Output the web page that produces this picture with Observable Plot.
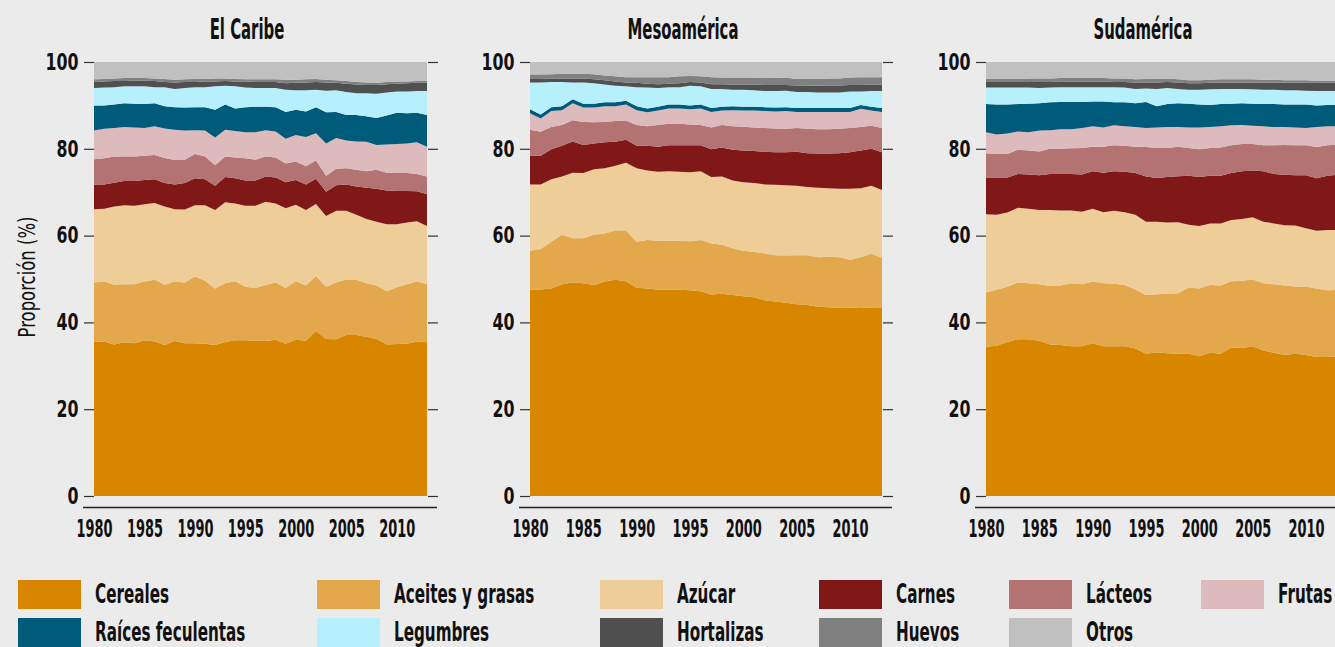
<!DOCTYPE html>
<html>
<head>
<meta charset="utf-8">
<script src="https://cdn.jsdelivr.net/npm/d3@7"></script>
<script src="https://cdn.jsdelivr.net/npm/@observablehq/plot@0.6"></script>
<style>
  html, body { margin: 0; padding: 0; background: #ebebeb; width: 1335px; height: 647px; overflow: hidden; }
  #wrap { position: relative; width: 1335px; height: 647px; overflow: hidden;
          font-family: "DejaVu Sans", sans-serif; color: #111; }
  .panel { position: absolute; top: 0; }
  .title { position: absolute; top: 13px; font-size: 28px; font-weight: bold; line-height: 34px; white-space: nowrap; }
  .ylab { position: absolute; left: 27px; top: 277px; font-size: 23px; line-height: 26px; white-space: nowrap; }
  .leg { position: absolute; height: 29px; white-space: nowrap; }
  .sw { position: absolute; left: 0; top: 0; width: 63px; height: 29px; }
  .lt { position: absolute; left: 77px; top: -2px; font-size: 27px; font-weight: bold; line-height: 32px;
        transform-origin: left center; }
</style>
</head>
<body>
<div id="wrap"></div>
<script>
const years = [1980,1981,1982,1983,1984,1985,1986,1987,1988,1989,1990,1991,1992,1993,1994,1995,1996,1997,1998,1999,2000,2001,2002,2003,2004,2005,2006,2007,2008,2009,2010,2011,2012,2013];
const categories = ["Cereales","Aceites y grasas","Azúcar","Carnes","Lácteos","Frutas","Raíces feculentas","Legumbres","Hortalizas","Huevos","Otros"];
const colors = ["#d88600","#e2a84b","#efcd98","#801818","#b37372","#ddbbbc","#005a7a","#b5f0fc","#505050","#808080","#c0c0c0"];
const yTicks = [0,20,40,60,80,100];
const xTicks = [1980,1985,1990,1995,2000,2005,2010];
const regions = ["El Caribe","Mesoamérica","Sudamérica"];
const yTitle = "Proporción (%)";

// Cumulative upper edge (%) of each band (bottom to top).
// El Caribe
const caribeCereales   = [35.5,35.6,34.9,35.4,35.2,35.9,35.6,34.8,35.7,35.2,35.2,35.1,34.8,35.5,35.9,35.9,35.8,35.7,36.0,35.1,36.0,35.8,38.0,36.2,36.1,37.1,37.1,36.7,36.2,34.9,35.0,35.1,35.6,35.4];
const caribeAceites    = [49.2,49.4,48.7,48.8,48.8,49.4,49.8,48.7,49.4,49.2,50.6,49.6,47.8,49.0,49.5,48.2,47.9,48.6,49.2,47.9,49.5,48.5,50.7,48.2,49.2,49.9,49.8,49.0,48.5,47.2,48.1,48.8,49.4,48.8];
const caribeAzucar     = [66.1,66.2,66.7,67.0,66.9,67.2,67.5,66.7,66.1,66.0,67.0,67.0,65.9,67.7,67.4,66.9,66.9,67.8,67.4,66.3,67.1,65.9,67.3,64.5,65.7,65.7,64.8,63.8,63.2,62.6,62.6,63.0,63.3,62.2];
const caribeCarnes     = [71.8,71.8,72.2,72.6,72.6,72.8,73.0,72.1,71.8,72.1,73.2,73.0,71.5,73.5,73.2,72.7,72.7,73.6,73.4,72.3,72.8,71.8,73.1,70.1,71.6,71.8,71.3,71.0,70.8,70.4,70.3,70.3,70.2,69.5];
const caribeLacteos    = [77.6,77.8,78.2,78.2,78.2,78.4,78.6,77.9,77.4,77.5,78.8,78.2,76.2,78.2,78.0,77.8,77.5,78.2,78.0,76.6,77.1,76.0,77.3,73.8,75.4,75.5,75.2,74.8,75.2,74.5,74.4,74.4,74.2,73.6];
const caribeFrutas     = [84.2,84.6,84.8,85.0,84.9,84.8,85.2,84.7,84.4,84.2,84.3,84.2,82.6,84.4,84.1,83.8,83.8,84.3,84.0,82.3,83.2,82.7,83.6,81.2,82.5,81.9,81.7,81.6,80.9,81.0,81.1,81.2,81.5,80.5];
const caribeRaices     = [90.0,90.0,90.2,90.5,90.4,90.3,90.5,89.8,89.6,89.5,89.6,89.6,89.0,90.2,89.3,89.6,89.7,89.7,89.6,88.5,89.0,88.6,89.6,88.4,88.5,87.8,87.8,87.5,87.1,87.7,88.3,88.2,88.3,87.8];
const caribeLegumbres  = [94.0,94.1,94.2,94.4,94.4,94.4,94.2,94.2,93.8,94.0,94.2,94.2,94.4,94.5,94.4,94.1,94.0,94.0,94.0,93.6,93.5,93.5,93.6,93.4,93.5,93.1,92.8,92.8,92.7,93.0,93.2,93.2,93.3,93.3];
const caribeHortalizas = [95.4,95.5,95.6,95.6,95.7,95.7,95.6,95.4,95.3,95.4,95.4,95.5,95.5,95.6,95.5,95.5,95.4,95.4,95.4,95.1,95.2,95.3,95.4,95.3,95.2,95.0,94.8,94.7,94.7,94.9,95.0,95.1,95.2,95.2];
const caribeHuevos     = [96.0,96.1,96.2,96.3,96.3,96.3,96.2,96.1,95.9,96.0,96.1,96.1,96.2,96.2,96.1,96.0,96.0,96.0,96.0,95.9,95.9,96.0,96.1,95.9,95.8,95.6,95.4,95.3,95.2,95.4,95.5,95.5,95.6,95.7];
const caribeOtros      = [100,100,100,100,100,100,100,100,100,100,100,100,100,100,100,100,100,100,100,100,100,100,100,100,100,100,100,100,100,100,100,100,100,100];

// Mesoamérica
const mesoCereales   = [47.5,47.6,47.8,48.8,49.2,49.0,48.6,49.4,49.8,49.5,48.0,47.8,47.5,47.5,47.5,47.4,47.2,46.4,46.6,46.3,46.0,45.8,45.1,44.8,44.5,44.2,44.0,43.6,43.5,43.3,43.4,43.5,43.3,43.3];
const mesoAceites    = [56.5,56.9,58.6,60.2,59.4,59.4,60.2,60.5,61.2,61.2,58.6,59.0,58.8,58.8,58.8,58.7,59.0,58.2,57.9,57.1,56.5,56.2,55.9,55.5,55.4,55.5,55.5,55.0,55.1,55.0,54.4,55.0,55.8,54.9];
const mesoAzucar     = [71.8,71.8,73.0,73.6,74.5,74.4,75.3,75.5,76.1,76.8,75.5,75.0,74.7,74.8,74.7,74.6,74.8,73.5,73.6,72.7,72.3,72.1,71.8,71.7,71.6,71.5,71.2,71.0,70.9,70.8,70.8,70.9,71.5,70.5];
const mesoCarnes     = [78.4,78.4,79.9,80.7,81.7,80.9,81.2,81.5,81.6,82.1,80.7,80.7,80.5,80.8,80.8,80.8,80.8,79.9,80.3,79.8,79.6,79.5,79.3,79.2,79.2,79.3,79.0,78.9,78.9,79.0,79.2,79.6,80.0,79.2];
const mesoLacteos    = [84.4,83.9,85.0,85.5,86.6,86.2,86.1,86.2,86.4,86.5,85.5,85.2,85.5,85.8,85.8,85.6,85.5,84.9,85.5,85.2,85.1,84.9,84.8,84.7,84.6,84.8,84.6,84.5,84.5,84.6,84.8,85.0,85.3,84.8];
const mesoFrutas     = [88.2,87.0,88.7,88.9,90.5,89.5,89.5,89.8,89.8,90.2,88.9,88.4,88.8,89.3,89.3,89.1,89.3,88.5,88.8,88.9,88.8,88.8,88.7,88.6,88.7,88.5,88.5,88.5,88.5,88.5,88.5,89.2,88.8,88.5];
const mesoRaices     = [89.1,87.9,89.6,89.8,91.4,90.4,90.4,90.7,90.7,91.1,89.8,89.3,89.7,90.2,90.2,90.0,90.2,89.4,89.7,89.8,89.7,89.7,89.6,89.5,89.6,89.4,89.4,89.4,89.4,89.4,89.4,90.1,89.7,89.4];
const mesoLegumbres  = [95.3,95.3,95.4,95.4,95.3,95.3,95.1,94.8,94.5,94.4,94.2,94.1,94.0,94.2,94.2,94.5,94.4,93.8,93.8,93.6,93.6,93.5,93.3,93.3,93.4,93.1,93.1,93.0,93.0,93.0,93.2,93.2,93.3,93.3];
const mesoHortalizas = [96.1,96.1,96.2,96.2,96.2,96.2,96.0,95.8,95.5,95.3,95.2,95.0,94.9,95.0,95.1,95.4,95.3,94.9,94.9,94.8,94.8,94.8,94.7,94.7,94.7,94.6,94.6,94.5,94.6,94.6,94.7,94.7,94.8,94.8];
const mesoHuevos     = [97.1,97.1,97.2,97.3,97.3,97.3,97.2,96.9,96.7,96.5,96.5,96.5,96.5,96.5,96.7,96.8,96.7,96.5,96.4,96.4,96.4,96.4,96.3,96.3,96.4,96.1,96.1,96.1,96.2,96.2,96.4,96.5,96.5,96.5];
const mesoOtros      = [100,100,100,100,100,100,100,100,100,100,100,100,100,100,100,100,100,100,100,100,100,100,100,100,100,100,100,100,100,100,100,100,100,100];

// Sudamérica
const sudCereales   = [34.4,34.6,35.5,36.1,36.1,35.8,34.9,34.8,34.5,34.5,35.2,34.5,34.5,34.5,34.0,32.8,33.1,32.9,32.8,32.8,32.2,33.0,32.8,34.2,34.1,34.5,33.5,33.0,32.5,32.8,32.5,32.0,32.0,32.1];
const sudAceites    = [46.9,47.5,48.2,49.2,49.0,48.8,48.4,48.5,49.0,48.8,49.4,49.0,48.9,48.6,47.6,46.3,46.5,46.6,46.7,48.0,47.8,48.6,48.5,49.5,49.6,49.9,49.0,48.8,48.5,48.3,48.2,47.8,47.4,47.5];
const sudAzucar     = [64.9,64.8,65.3,66.4,66.2,65.9,65.9,65.8,65.8,65.5,66.2,65.4,65.7,65.4,64.8,63.2,63.2,63.0,63.1,62.5,62.2,62.8,62.8,63.6,63.8,64.2,63.2,62.8,62.4,62.3,61.7,61.1,61.3,61.3];
const sudCarnes     = [73.4,73.4,73.4,74.2,74.1,73.9,74.2,74.2,74.2,74.1,74.8,74.5,74.8,74.7,74.4,73.6,73.3,73.5,73.7,73.8,73.5,73.8,73.8,74.4,74.8,75.0,74.8,74.2,74.0,73.9,73.9,73.2,73.8,74.0];
const sudLacteos    = [79.0,78.8,78.8,79.8,79.6,79.4,80.0,80.0,80.1,80.2,80.5,80.5,80.8,80.7,80.5,80.4,80.2,80.2,80.5,80.2,79.9,80.2,80.3,80.8,81.1,81.1,80.8,80.8,80.9,80.8,80.8,80.4,80.8,81.0];
const sudFrutas     = [83.8,83.3,83.5,84.0,83.8,84.2,84.3,84.5,84.5,84.8,85.2,84.9,85.4,85.2,85.0,84.8,84.9,85.0,85.0,84.9,84.9,85.0,85.2,85.4,85.5,85.3,85.2,85.0,85.0,84.9,84.8,85.0,85.2,85.2];
const sudRaices     = [90.3,90.2,90.2,90.3,90.4,90.5,90.7,90.8,90.8,90.8,90.9,90.9,90.7,90.7,90.5,90.8,89.8,90.3,90.5,90.4,90.2,90.1,90.3,90.4,90.5,90.4,90.3,90.3,90.2,90.2,90.2,90.0,90.1,90.1];
const sudLegumbres  = [94.1,94.1,94.1,94.1,94.1,94.0,94.1,94.2,94.2,94.2,94.2,94.2,94.2,94.1,93.8,93.9,93.8,94.0,93.8,93.6,93.6,93.7,93.8,93.8,93.8,93.7,93.6,93.6,93.5,93.5,93.4,93.3,93.3,93.3];
const sudHortalizas = [95.4,95.4,95.4,95.4,95.4,95.4,95.4,95.5,95.5,95.5,95.5,95.5,95.4,95.4,95.3,95.3,95.3,95.4,95.3,95.1,95.1,95.2,95.2,95.2,95.2,95.2,95.2,95.2,95.2,95.2,95.2,95.2,95.2,95.2];
const sudHuevos     = [96.1,96.1,96.1,96.1,96.2,96.2,96.2,96.3,96.3,96.3,96.3,96.3,96.2,96.2,96.0,96.1,96.1,96.2,96.0,95.8,95.8,95.9,96.0,96.0,96.0,96.0,95.9,95.9,95.8,95.8,95.8,95.7,95.7,95.7];
const sudOtros      = [100,100,100,100,100,100,100,100,100,100,100,100,100,100,100,100,100,100,100,100,100,100,100,100,100,100,100,100,100,100,100,100,100,100];

const caribeTops = [caribeCereales,caribeAceites,caribeAzucar,caribeCarnes,caribeLacteos,caribeFrutas,caribeRaices,caribeLegumbres,caribeHortalizas,caribeHuevos,caribeOtros];
const mesoTops   = [mesoCereales,mesoAceites,mesoAzucar,mesoCarnes,mesoLacteos,mesoFrutas,mesoRaices,mesoLegumbres,mesoHortalizas,mesoHuevos,mesoOtros];
const sudTops    = [sudCereales,sudAceites,sudAzucar,sudCarnes,sudLacteos,sudFrutas,sudRaices,sudLegumbres,sudHortalizas,sudHuevos,sudOtros];

// turn cumulative edges into per-category shares for Plot's stack
function toRows(tops) {
  const rows = [];
  years.forEach((yr, i) => {
    let prev = 0;
    categories.forEach((c, k) => {
      const top = tops[k][i];
      rows.push({year: yr, category: c, share: top - prev});
      prev = top;
    });
  });
  return rows;
}

// condensed look: horizontal compression of a sans font
const ctx = document.createElement("canvas").getContext("2d");
function textW(s, font) { ctx.font = font; return ctx.measureText(s).width; }
const FAM = "'DejaVu Sans', sans-serif";
const kTitle = 111 / textW("Mesoamérica", `bold 28px ${FAM}`);
const kLeg   = 74 / textW("Cereales", `bold 27px ${FAM}`);
const kXt    = 36 / textW("1980", `bold 25px ${FAM}`);
const kYt    = 33 / textW("100", `bold 23px ${FAM}`);
const kYlab  = 121 / textW(yTitle, `23px ${FAM}`);

// wrap each tick label in a group that scales it horizontally about its own anchor point
function condenseSvg(svg, label, k) {
  svg.querySelectorAll(`g[aria-label="${label}"] text`).forEach(t => {
    const parent = t.parentNode;
    const m = parent.getCTM().inverse().multiply(t.getCTM());
    const x = parseFloat(t.getAttribute("x")) || 0, y = parseFloat(t.getAttribute("y")) || 0;
    const ax = m.a * x + m.c * y + m.e, ay = m.b * x + m.d * y + m.f;
    const g = document.createElementNS("http://www.w3.org/2000/svg", "g");
    g.setAttribute("transform", `translate(${ax},${ay}) scale(${k},1) translate(${-ax},${-ay})`);
    parent.insertBefore(g, t);
    g.appendChild(t);
  });
}

const layout = [
  {left: 0,   width: 440, ml: 94, mr: 13, tops: caribeTops, titleX: 247},
  {left: 440, width: 460, ml: 90, mr: 18, tops: mesoTops,   titleX: 683},
  {left: 900, width: 460, ml: 86, mr: 22, tops: sudTops,    titleX: 1143}
];

const wrap = document.getElementById("wrap");

layout.forEach((L, p) => {
  const svg = Plot.plot({
    width: L.width, height: 540,
    marginLeft: L.ml, marginRight: L.mr, marginTop: 62, marginBottom: 44,
    style: {background: "transparent", fontFamily: FAM, color: "#111", overflow: "visible"},
    x: {domain: [1980, 2013], axis: null},
    y: {domain: [0, 100], axis: null},
    color: {domain: categories, range: colors},
    marks: [
      Plot.areaY(toRows(L.tops), {x: "year", y: "share", fill: "category", order: categories, curve: "linear"}),
      Plot.axisY(yTicks, {anchor: "left", tickSize: 10, tickPadding: 6, label: null, stroke: "#333", strokeWidth: 1.2,
                          fontSize: 23, fontWeight: "bold", fill: "#111"}),
      Plot.axisY(yTicks, {anchor: "right", tickSize: 10, tickFormat: () => "", label: null, stroke: "#333", strokeWidth: 1.2}),
      Plot.axisX(xTicks, {anchor: "bottom", tickSize: 0, tickPadding: 23, tickFormat: d => String(d), label: null,
                          fontSize: 25, fontWeight: "bold", fill: "#111"}),
      Plot.ruleY([0], {dy: 11, insetLeft: -11, insetRight: -10, stroke: "#222", strokeWidth: 1.4})
    ]
  });
  svg.classList.add("panel");
  svg.style.left = L.left + "px";
  wrap.appendChild(svg);
  condenseSvg(svg, "y-axis tick label", kYt);
  condenseSvg(svg, "x-axis tick label", kXt);

  const t = document.createElement("div");
  t.className = "title";
  t.style.left = L.titleX + "px";
  t.style.transform = `translateX(-50%) scaleX(${kTitle})`;
  t.textContent = regions[p];
  wrap.appendChild(t);
});

const yl = document.createElement("div");
yl.className = "ylab";
yl.style.transform = `translate(-50%, -50%) rotate(-90deg) scaleX(${kYlab})`;
yl.textContent = yTitle;
wrap.appendChild(yl);

// legend
const legX = [18, 317, 600, 819, 1009, 1201];
categories.forEach((c, i) => {
  const row = Math.floor(i / 6), col = i % 6;
  const d = document.createElement("div");
  d.className = "leg";
  d.style.left = legX[col] + "px";
  d.style.top = (580 + row * 38) + "px";
  const sw = document.createElement("div");
  sw.className = "sw";
  sw.style.background = colors[i];
  const lt = document.createElement("div");
  lt.className = "lt";
  lt.style.transform = `scaleX(${kLeg})`;
  lt.textContent = c;
  d.appendChild(sw); d.appendChild(lt);
  wrap.appendChild(d);
});
</script>
</body>
</html>
